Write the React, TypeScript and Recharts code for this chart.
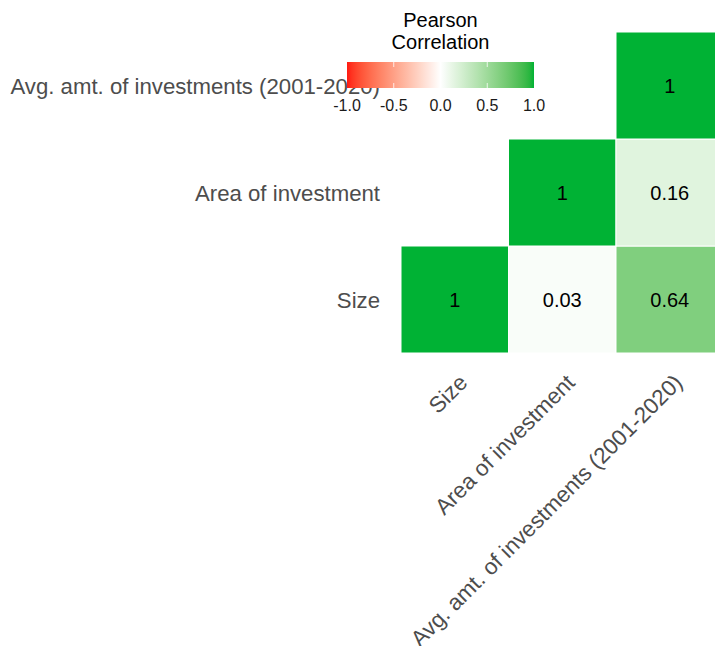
import { Scatter, ScatterChart, XAxis, YAxis } from "recharts";

// variables of the correlation matrix (bottom row first)
const variables = ["Size", "Area of investment", "Avg. amt. of investments (2001-2020)"];

// upper triangle incl. diagonal: column index, row index, pearson r
const cellCol = [0, 1, 2, 1, 2, 2];
const cellRow = [0, 0, 0, 1, 1, 2];
const corrValues = [1, 0.03, 0.64, 1, 0.16, 1];

const legendTicks = [-1, -0.5, 0, 0.5, 1];

const LOW = "#FF1A12";
const MID = "#FFFFFF";
const HIGH = "#00B234";

const CHART_W = 730;
const CHART_H = 660;
const MARGIN = { top: 32, right: 6.5, bottom: 0, left: 0 };
const Y_AXIS_W = 401;
const X_AXIS_H = 307;
const PLOT_W = CHART_W - Y_AXIS_W - MARGIN.right;
const PLOT_H = CHART_H - MARGIN.top - X_AXIS_H;
const PLOT_LEFT = Y_AXIS_W;
const PLOT_BOTTOM = MARGIN.top + PLOT_H;
const CELL_W = PLOT_W / variables.length;
const CELL_H = PLOT_H / variables.length;

const FONT = '"Liberation Sans", Arial, Helvetica, sans-serif';

// --- Lab interpolation, like ggplot's gradient2 ---
type Vec = [number, number, number];
function hexToRgb(h: string): Vec {
  const n = parseInt(h.slice(1), 16);
  return [(n >> 16) & 255, (n >> 8) & 255, n & 255];
}
const toLin = (c: number) => {
  c /= 255;
  return c <= 0.04045 ? c / 12.92 : Math.pow((c + 0.055) / 1.055, 2.4);
};
const fromLin = (c: number) => {
  const v = c <= 0.0031308 ? 12.92 * c : 1.055 * Math.pow(c, 1 / 2.4) - 0.055;
  return Math.round(Math.min(1, Math.max(0, v)) * 255);
};
const WN: Vec = [0.95047, 1, 1.08883];
function rgbToLab(rgb: Vec): Vec {
  const [r, g, b] = rgb.map(toLin);
  const xyz: Vec = [
    0.4124564 * r + 0.3575761 * g + 0.1804375 * b,
    0.2126729 * r + 0.7151522 * g + 0.072175 * b,
    0.0193339 * r + 0.119192 * g + 0.9503041 * b,
  ];
  const f = (t: number) => (t > 0.008856 ? Math.cbrt(t) : 7.787 * t + 16 / 116);
  const [fx, fy, fz] = xyz.map((v, i) => f(v / WN[i]));
  return [116 * fy - 16, 500 * (fx - fy), 200 * (fy - fz)];
}
function labToHex([L, a, b]: Vec) {
  const fy = (L + 16) / 116;
  const fx = fy + a / 500;
  const fz = fy - b / 200;
  const inv = (t: number) => (t > 0.206893 ? t * t * t : (t - 16 / 116) / 7.787);
  const [X, Y, Z] = [inv(fx) * WN[0], inv(fy) * WN[1], inv(fz) * WN[2]];
  const r = 3.2404542 * X - 1.5371385 * Y - 0.4985314 * Z;
  const g = -0.969266 * X + 1.8760108 * Y + 0.041556 * Z;
  const bb = 0.0556434 * X - 0.2040259 * Y + 1.0572252 * Z;
  return "#" + [r, g, bb].map((c) => fromLin(c).toString(16).padStart(2, "0")).join("");
}
const labLow = rgbToLab(hexToRgb(LOW));
const labMid = rgbToLab(hexToRgb(MID));
const labHigh = rgbToLab(hexToRgb(HIGH));
function corrColor(v: number) {
  const t = Math.abs(v);
  const end = v < 0 ? labLow : labHigh;
  return labToHex([0, 1, 2].map((i) => labMid[i] + (end[i] - labMid[i]) * t) as Vec);
}

const cells = corrValues.map((r, i) => ({ x: cellCol[i] + 1, y: cellRow[i] + 1, r }));

function Tile(props: any) {
  const { cx, cy, payload } = props;
  if (cx == null || cy == null) return null;
  const label = payload.r === 1 ? "1" : payload.r.toFixed(2);
  return (
    <g>
      <rect
        x={cx - CELL_W / 2}
        y={cy - CELL_H / 2}
        width={CELL_W}
        height={CELL_H}
        fill={corrColor(payload.r)}
        stroke="#FFFFFF"
        strokeWidth={1}
      />
      <text x={cx} y={cy} dy={7} textAnchor="middle" fontSize={20} fill="#000" fontFamily={FONT}>
        {label}
      </text>
    </g>
  );
}

function XTick({ x, payload }: any) {
  const tx = x + 14;
  const ty = PLOT_BOTTOM + 31;
  return (
    <text
      x={tx}
      y={ty}
      textAnchor="end"
      transform={`rotate(-45 ${tx} ${ty})`}
      fontSize={22.4}
      fill="#4D4D4D"
      fontFamily={FONT}
    >
      {variables[payload.value - 1]}
    </text>
  );
}

function YTick({ y, payload }: any) {
  return (
    <text x={PLOT_LEFT - 21} y={y} dy={8} textAnchor="end" fontSize={22.2} fill="#4D4D4D" fontFamily={FONT}>
      {variables[payload.value - 1]}
    </text>
  );
}

function ColorLegend() {
  const x0 = 347;
  const x1 = 534;
  const top = 62;
  const h = 26;
  const pos = (v: number) => x0 + ((v + 1) / 2) * (x1 - x0);
  const stops = Array.from({ length: 41 }, (_, i) => -1 + i * 0.05);
  return (
    <svg width={715} height={646} style={{ position: "absolute", left: 0, top: 0, pointerEvents: "none" }}>
      <defs>
        <linearGradient id="corrBar" x1="0" y1="0" x2="1" y2="0">
          {stops.map((v) => (
            <stop key={v} offset={`${((v + 1) / 2) * 100}%`} stopColor={corrColor(v)} />
          ))}
        </linearGradient>
      </defs>
      <text x={440.5} y={26.5} textAnchor="middle" fontSize={20} fontFamily={FONT} fill="#000">
        Pearson
      </text>
      <text x={440.5} y={49} textAnchor="middle" fontSize={20} fontFamily={FONT} fill="#000">
        Correlation
      </text>
      <rect x={x0} y={top} width={x1 - x0} height={h} fill="url(#corrBar)" />
      {legendTicks.slice(1, -1).map((v) => (
        <g key={v} stroke="#FFFFFF" strokeOpacity={0.8} strokeWidth={1}>
          <line x1={pos(v)} x2={pos(v)} y1={top} y2={top + 5} />
          <line x1={pos(v)} x2={pos(v)} y1={top + h - 5} y2={top + h} />
        </g>
      ))}
      {legendTicks.map((v) => (
        <text key={v} x={pos(v)} y={110.5} textAnchor="middle" fontSize={16} fontFamily={FONT} fill="#1A1A1A">
          {v.toFixed(1)}
        </text>
      ))}
    </svg>
  );
}

export default function App() {
  return (
    <div
      style={{
        position: "fixed",
        left: 0,
        top: 0,
        width: 715,
        height: 646,
        overflow: "hidden",
        background: "#FFFFFF",
      }}
    >
      <ScatterChart width={CHART_W} height={CHART_H} margin={MARGIN}>
        <XAxis
          type="number"
          dataKey="x"
          domain={[0.5, 3.5]}
          ticks={[1, 2, 3]}
          interval={0}
          height={X_AXIS_H}
          axisLine={false}
          tickLine={false}
          tick={<XTick />}
        />
        <YAxis
          type="number"
          dataKey="y"
          domain={[0.5, 3.5]}
          ticks={[1, 2, 3]}
          interval={0}
          width={Y_AXIS_W}
          axisLine={false}
          tickLine={false}
          tick={<YTick />}
        />
        <Scatter data={cells} shape={<Tile />} isAnimationActive={false} />
      </ScatterChart>
      <ColorLegend />
    </div>
  );
}
